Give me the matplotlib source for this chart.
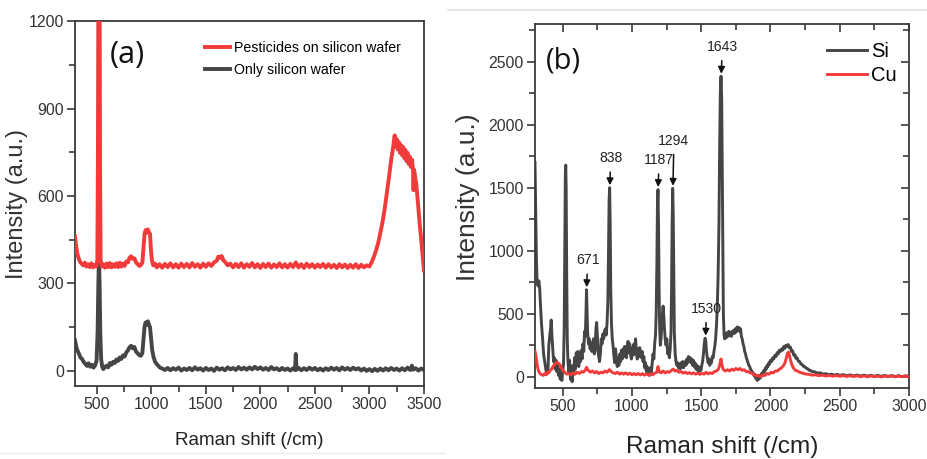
import matplotlib
matplotlib.use("Agg")
import matplotlib.pyplot as plt
from matplotlib import font_manager
from matplotlib.lines import Line2D
from matplotlib.ticker import MultipleLocator

# ---------------- data ----------------
# panel (a): (Raman shift, intensity) pairs
A_WAFER = [
    (300, 105), (310, 86), (320, 72), (335, 60), (350, 46), (365, 41), (380, 30), (395, 24),
    (410, 17), (425, 26), (440, 14), (455, 21), (470, 11), (485, 19), (498, 35), (508, 140),
    (514, 290), (520, 395), (526, 290), (532, 130), (540, 40), (550, 14), (560, 6), (575, 13),
    (590, 18), (605, 12), (620, 27), (635, 21), (650, 31), (665, 27), (680, 39), (695, 34),
    (710, 46), (725, 41), (740, 53), (755, 49), (770, 63), (785, 70), (800, 81), (815, 86),
    (830, 77), (845, 82), (860, 66), (875, 60), (890, 54), (905, 52), (918, 62), (928, 105),
    (938, 152), (948, 166), (958, 158), (968, 170), (978, 160), (988, 150), (998, 112),
    (1008, 72), (1020, 48), (1035, 31), (1050, 23), (1065, 17), (1080, 11), (1100, 8),
    (1125, 3), (1150, 10), (1175, 2), (1200, 9), (1225, 4), (1250, 11), (1275, 1), (1300, 8),
    (1325, 3), (1350, 10), (1375, 2), (1400, 12), (1425, 4), (1450, 9), (1475, 1), (1500, 10),
    (1525, 3), (1550, 8), (1575, 0), (1600, 11), (1625, 4), (1650, 9), (1675, 2), (1700, 12),
    (1725, 5), (1750, 10), (1775, 3), (1800, 13), (1825, 5), (1850, 11), (1875, 4), (1900, 12),
    (1925, 5), (1950, 14), (1975, 6), (2000, 12), (2025, 4), (2050, 10), (2075, 3), (2100, 13),
    (2125, 5), (2150, 9), (2175, 2), (2200, 10), (2225, 3), (2250, 8), (2275, 1), (2300, 9),
    (2318, 3), (2325, 58), (2332, 4), (2350, 10), (2375, 2), (2400, 9), (2425, 3), (2450, 11),
    (2475, 4), (2500, 10), (2525, 2), (2550, 8), (2575, 1), (2600, 9), (2625, 3), (2650, 11),
    (2675, 4), (2700, 10), (2725, 2), (2750, 12), (2775, 4), (2800, 10), (2825, 3), (2850, 11),
    (2875, 5), (2900, 9), (2925, 1), (2950, 8), (2975, 0), (3000, 6), (3025, -1), (3050, 7),
    (3075, 0), (3100, 8), (3125, 1), (3150, 9), (3175, 2), (3200, 10), (3225, 3), (3250, 8),
    (3275, 1), (3300, 9), (3325, 2), (3350, 11), (3375, 3), (3390, 18), (3400, 4), (3425, 9),
    (3450, 1), (3475, 8), (3500, 3),
]

A_PESTICIDES = [
    (300, 462), (310, 430), (320, 405), (330, 390), (345, 375), (360, 368), (375, 362),
    (390, 371), (405, 358), (420, 366), (435, 356), (450, 369), (465, 355), (480, 364),
    (495, 358), (505, 380), (510, 700), (514, 1250), (520, 1260), (526, 1250), (530, 700),
    (535, 380), (545, 358), (560, 366), (575, 354), (590, 368), (605, 356), (620, 370),
    (635, 355), (650, 366), (665, 357), (680, 369), (695, 356), (710, 371), (725, 358),
    (740, 368), (755, 360), (770, 375), (785, 372), (800, 388), (815, 393), (830, 384),
    (845, 386), (860, 372), (875, 366), (890, 360), (905, 363), (918, 372), (928, 420),
    (938, 470), (948, 483), (958, 474), (968, 485), (978, 476), (988, 470), (996, 420),
    (1006, 378), (1018, 362), (1035, 368), (1050, 355), (1075, 366), (1100, 354), (1125, 367),
    (1150, 356), (1175, 369), (1200, 355), (1225, 366), (1250, 354), (1275, 368), (1300, 356),
    (1325, 367), (1350, 355), (1375, 370), (1400, 357), (1425, 366), (1450, 354), (1475, 368),
    (1500, 357), (1525, 369), (1550, 360), (1575, 372), (1600, 378), (1615, 392), (1630, 388),
    (1645, 394), (1660, 380), (1680, 372), (1700, 362), (1725, 368), (1750, 355), (1775, 367),
    (1800, 356), (1825, 369), (1850, 354), (1875, 366), (1900, 357), (1925, 370), (1950, 355),
    (1975, 366), (2000, 353), (2025, 367), (2050, 356), (2075, 368), (2100, 354), (2125, 365),
    (2150, 356), (2175, 369), (2200, 355), (2225, 366), (2250, 354), (2275, 367), (2300, 356),
    (2325, 372), (2350, 355), (2375, 366), (2400, 353), (2425, 368), (2450, 356), (2475, 366),
    (2500, 354), (2525, 365), (2550, 356), (2575, 367), (2600, 354), (2625, 366), (2650, 355),
    (2675, 364), (2700, 353), (2725, 366), (2750, 355), (2775, 365), (2800, 353), (2825, 364),
    (2850, 354), (2875, 366), (2900, 353), (2925, 364), (2950, 355), (2975, 362), (3000, 358),
    (3020, 372), (3040, 390), (3060, 412), (3080, 438), (3100, 472), (3120, 510), (3140, 555),
    (3160, 610), (3180, 665), (3200, 725), (3215, 760), (3225, 790), (3232, 808), (3240, 770),
    (3250, 795), (3260, 760), (3270, 785), (3280, 748), (3290, 775), (3300, 740), (3310, 768),
    (3320, 730), (3330, 758), (3340, 720), (3350, 748), (3360, 710), (3370, 735), (3380, 700),
    (3390, 725), (3400, 690), (3405, 620), (3410, 690), (3420, 665), (3430, 640), (3440, 600),
    (3450, 555), (3460, 510), (3470, 470), (3480, 430), (3490, 390), (3500, 345),
]

# panel (b)
B_SI = [
    (300, 1700), (305, 1300), (310, 950), (315, 760), (322, 720), (328, 760), (334, 700),
    (340, 560), (347, 420), (355, 300), (362, 180), (370, 120), (378, 60), (386, 20), (394, 60),
    (400, 250), (406, 320), (412, 380), (417, 450), (422, 330), (428, 230), (434, 120),
    (440, 150), (446, 60), (452, 130), (458, 40), (464, 90), (470, 10), (476, 60), (482, -20),
    (488, 30), (494, -30), (500, 40), (506, 100), (511, 400), (515, 1000), (519, 1600),
    (522, 1680), (525, 1500), (529, 800), (533, 300), (538, 120), (544, 40), (550, 130),
    (556, -20), (562, 60), (568, -40), (574, 90), (580, 20), (586, 150), (592, 60), (598, 190),
    (604, 100), (610, 200), (616, 80), (622, 150), (628, 120), (634, 210), (640, 140),
    (646, 260), (652, 200), (658, 360), (663, 320), (668, 500), (672, 690), (676, 520),
    (680, 350), (686, 260), (692, 300), (698, 220), (704, 270), (710, 200), (716, 240),
    (722, 300), (728, 180), (734, 220), (740, 380), (745, 430), (750, 330), (755, 200),
    (760, 160), (766, 120), (772, 180), (778, 300), (784, 260), (790, 340), (796, 300),
    (802, 360), (808, 380), (814, 330), (820, 420), (826, 600), (831, 1000), (835, 1400),
    (839, 1500), (843, 1200), (847, 700), (852, 420), (858, 300), (864, 240), (870, 160),
    (876, 110), (882, 220), (888, 130), (894, 80), (900, 150), (906, 90), (912, 180),
    (918, 120), (924, 210), (930, 140), (936, 220), (942, 160), (948, 240), (954, 200),
    (960, 150), (966, 230), (972, 280), (978, 190), (984, 260), (990, 170), (996, 140),
    (1002, 230), (1008, 170), (1014, 260), (1020, 180), (1026, 300), (1032, 200), (1038, 140),
    (1044, 220), (1050, 160), (1056, 230), (1062, 180), (1068, 150), (1074, 200), (1080, 120),
    (1086, 160), (1092, 70), (1098, 110), (1104, 40), (1110, 80), (1116, 20), (1122, 60),
    (1128, 10), (1134, 70), (1140, 30), (1146, 110), (1152, 180), (1158, 140), (1164, 260),
    (1170, 330), (1175, 500), (1180, 900), (1184, 1350), (1188, 1485), (1192, 1200),
    (1196, 700), (1200, 380), (1205, 250), (1210, 300), (1215, 400), (1220, 500), (1225, 560),
    (1230, 480), (1235, 380), (1240, 300), (1246, 250), (1252, 300), (1258, 180), (1264, 230),
    (1270, 150), (1276, 220), (1282, 350), (1286, 700), (1290, 1200), (1294, 1495),
    (1298, 1300), (1302, 800), (1306, 350), (1312, 180), (1318, 120), (1324, 90), (1330, 110),
    (1336, 70), (1342, 100), (1348, 60), (1354, 110), (1360, 80), (1366, 120), (1372, 70),
    (1378, 100), (1384, 120), (1390, 90), (1396, 140), (1402, 110), (1408, 160), (1414, 130),
    (1420, 150), (1426, 110), (1432, 140), (1438, 90), (1444, 130), (1450, 80), (1456, 110),
    (1462, 60), (1468, 90), (1474, 50), (1480, 80), (1486, 40), (1492, 70), (1498, 50),
    (1504, 90), (1510, 120), (1516, 180), (1522, 260), (1528, 305), (1533, 280), (1538, 200),
    (1544, 150), (1550, 110), (1556, 140), (1562, 90), (1568, 130), (1574, 110), (1580, 160),
    (1586, 150), (1592, 200), (1598, 240), (1604, 300), (1610, 400), (1616, 550), (1622, 800),
    (1628, 1200), (1633, 1800), (1638, 2250), (1643, 2385), (1648, 2200), (1652, 1600),
    (1656, 900), (1660, 500), (1665, 330), (1670, 300), (1676, 340), (1682, 310), (1688, 350),
    (1694, 320), (1700, 360), (1706, 330), (1712, 350), (1718, 320), (1724, 360), (1730, 340),
    (1736, 370), (1742, 345), (1748, 380), (1754, 355), (1760, 395), (1766, 370), (1772, 390),
    (1778, 360), (1784, 380), (1790, 320), (1796, 300), (1802, 260), (1808, 240), (1814, 200),
    (1820, 180), (1826, 150), (1832, 130), (1838, 110), (1844, 90), (1850, 80), (1856, 60),
    (1862, 50), (1868, 30), (1874, 30), (1880, 10), (1886, 20), (1892, -10), (1898, 10),
    (1904, -30), (1910, 0), (1916, -20), (1922, 10), (1928, -10), (1934, 20), (1940, 30),
    (1946, 10), (1952, 50), (1958, 40), (1964, 70), (1970, 60), (1976, 90), (1982, 80),
    (1988, 110), (1994, 100), (2000, 130), (2008, 120), (2016, 150), (2024, 140), (2032, 170),
    (2040, 160), (2048, 190), (2056, 180), (2064, 210), (2072, 200), (2080, 220), (2088, 210),
    (2096, 240), (2104, 225), (2112, 250), (2120, 240), (2128, 255), (2136, 230), (2144, 235),
    (2152, 200), (2160, 205), (2168, 170), (2176, 175), (2184, 145), (2192, 150), (2200, 125),
    (2210, 120), (2220, 100), (2230, 95), (2240, 80), (2250, 78), (2260, 65), (2270, 62),
    (2280, 50), (2290, 50), (2300, 40), (2320, 38), (2340, 28), (2360, 30), (2380, 20),
    (2400, 24), (2420, 15), (2440, 20), (2460, 12), (2480, 18), (2500, 10), (2525, 16),
    (2550, 8), (2575, 14), (2600, 6), (2625, 13), (2650, 5), (2675, 12), (2700, 4), (2725, 11),
    (2750, 3), (2775, 10), (2800, 2), (2825, 10), (2850, 2), (2875, 9), (2900, 1), (2925, 8),
    (2950, 0), (2975, 7), (3000, 2),
]

B_CU = [
    (300, 200), (306, 170), (312, 120), (318, 80), (324, 50), (330, 35), (340, 20), (350, 15),
    (360, 10), (370, 25), (380, 15), (390, 35), (400, 30), (410, 50), (420, 60), (430, 80),
    (440, 95), (450, 105), (460, 115), (470, 105), (480, 95), (490, 70), (500, 55), (510, 40),
    (520, 30), (530, 20), (545, 25), (560, 15), (575, 30), (590, 20), (605, 35), (620, 25),
    (635, 40), (650, 35), (665, 55), (672, 75), (680, 55), (690, 45), (700, 35), (715, 45),
    (730, 30), (745, 40), (760, 25), (775, 35), (790, 30), (805, 45), (820, 35), (838, 55),
    (850, 40), (865, 30), (880, 25), (895, 35), (910, 20), (925, 30), (940, 20), (955, 30),
    (970, 18), (985, 28), (1000, 15), (1015, 25), (1030, 15), (1045, 25), (1060, 14),
    (1075, 24), (1090, 12), (1105, 22), (1120, 12), (1135, 24), (1150, 15), (1165, 28),
    (1180, 35), (1188, 80), (1196, 40), (1210, 30), (1225, 45), (1240, 30), (1255, 40),
    (1270, 35), (1285, 50), (1298, 60), (1310, 45), (1325, 50), (1340, 35), (1355, 40),
    (1370, 28), (1385, 35), (1400, 25), (1415, 32), (1430, 22), (1445, 30), (1460, 20),
    (1475, 28), (1490, 18), (1505, 26), (1520, 20), (1535, 35), (1550, 22), (1565, 30),
    (1580, 25), (1595, 40), (1610, 45), (1625, 60), (1635, 100), (1643, 140), (1650, 90),
    (1660, 55), (1675, 45), (1690, 55), (1705, 45), (1720, 60), (1735, 50), (1750, 65),
    (1765, 55), (1780, 65), (1795, 50), (1810, 55), (1825, 40), (1840, 40), (1855, 30),
    (1870, 25), (1885, 15), (1900, 5), (1915, 10), (1930, 0), (1945, 15), (1960, 10),
    (1975, 25), (1990, 20), (2005, 35), (2020, 30), (2035, 45), (2050, 45), (2065, 60),
    (2080, 70), (2095, 90), (2105, 110), (2115, 150), (2123, 185), (2130, 195), (2137, 170),
    (2145, 130), (2155, 95), (2165, 70), (2180, 50), (2195, 45), (2210, 35), (2225, 30),
    (2240, 25), (2260, 20), (2280, 18), (2300, 12), (2325, 15), (2350, 8), (2375, 12),
    (2400, 5), (2425, 10), (2450, 4), (2475, 9), (2500, 3), (2525, 8), (2550, 2), (2575, 7),
    (2600, 1), (2625, 7), (2650, 0), (2675, 6), (2700, -1), (2725, 6), (2750, 0), (2775, 5),
    (2800, -2), (2825, 5), (2850, 0), (2875, 6), (2900, -1), (2925, 5), (2950, 0), (2975, 4),
    (3000, -2),
]

B_PEAKS = [671, 838, 1187, 1294, 1530, 1643]

# ---------------- style ----------------
RED = "#f13b3b"
GRAY = "#454545"
SPINE = "#3a3a3a"

available = {f.name for f in font_manager.fontManager.ttflist}
NARROW = "Liberation Sans Narrow" if "Liberation Sans Narrow" in available else "Liberation Sans"
REGULAR = "Liberation Sans"
shrink = 1.0 if NARROW == "Liberation Sans Narrow" else 0.88

plt.rcParams["font.family"] = [REGULAR, "DejaVu Sans"]


def unzip(pairs):
    return [p[0] for p in pairs], [p[1] for p in pairs]


def style_axes(ax, mirror):
    for s in ax.spines.values():
        s.set_color(SPINE)
        s.set_linewidth(1.3)
    ax.tick_params(which="both", direction="out", color=SPINE, width=1.2)
    ax.tick_params(which="major", length=6)
    ax.tick_params(which="minor", length=4)
    for lab in ax.get_xticklabels() + ax.get_yticklabels():
        lab.set_fontfamily(NARROW)
    if mirror:
        top = ax.secondary_xaxis("top")
        right = ax.secondary_yaxis("right")
        for sec, loc in ((top, ax.xaxis), (right, ax.yaxis)):
            sec.set_ticks(loc.get_majorticklocs())
            sec.tick_params(which="both", direction="in", color=SPINE, width=1.2)
            sec.tick_params(which="major", length=6)
            sec.tick_params(which="minor", length=4)
        top.xaxis.set_minor_locator(MultipleLocator(250))
        right.yaxis.set_minor_locator(MultipleLocator(250))
        top.tick_params(labeltop=False)
        right.tick_params(labelright=False)
        top.spines["top"].set_visible(False)
        right.spines["right"].set_visible(False)


fig = plt.figure(figsize=(9.28, 4.59), dpi=100)

# ---------------- panel (a) ----------------
ax1 = fig.add_axes([0.0808, 0.159, 0.376, 0.795])
x, y = unzip(A_WAFER)
ax1.plot(x, y, color=GRAY, lw=2.8, label="Only silicon wafer", zorder=2)
x, y = unzip(A_PESTICIDES)
ax1.plot(x, y, color=RED, lw=2.8, label="Pesticides on silicon wafer", zorder=3)
ax1.set_xlim(300, 3500)
ax1.set_ylim(-52, 1200)
ax1.xaxis.set_major_locator(MultipleLocator(500))
ax1.xaxis.set_minor_locator(MultipleLocator(250))
ax1.yaxis.set_major_locator(MultipleLocator(300))
ax1.yaxis.set_minor_locator(MultipleLocator(150))
ax1.tick_params(labelsize=13 * shrink, pad=2, labelcolor="#333")
style_axes(ax1, mirror=False)
ax1.set_xlabel("Raman shift (/cm)", fontsize=15.5 * shrink, family=NARROW, color="#222")
ax1.xaxis.set_label_coords(0.5, -0.125)
ax1.xaxis.label.set_va("top")
ax1.set_ylabel("Intensity (a.u.)", fontsize=17, color="#333")
ax1.yaxis.set_label_coords(-0.135, 0.5)
ax1.text(0.149, 0.907, "(a)", transform=ax1.transAxes, fontsize=22, ha="center", va="center",
         family="Open Sans", color="#111")
h, l = ax1.get_legend_handles_labels()
leg = ax1.legend(h[::-1], l[::-1], loc="upper left", bbox_to_anchor=(0.355, 0.962), frameon=False,
                 prop={"family": NARROW, "size": 11.6 * shrink}, handlelength=1.8,
                 handletextpad=0.3, labelspacing=0.6, borderaxespad=0)

# ---------------- panel (b) ----------------
ax2 = fig.add_axes([0.5765, 0.1547, 0.403, 0.793])
x, y = unzip(B_SI)
ax2.plot(x, y, color=GRAY, lw=2.1, label="Si", zorder=2)
x, y = unzip(B_CU)
ax2.plot(x, y, color=RED, lw=2.1, label="Cu", zorder=3)
ax2.set_xlim(300, 3000)
ax2.set_ylim(-90, 2800)
ax2.xaxis.set_major_locator(MultipleLocator(500))
ax2.xaxis.set_minor_locator(MultipleLocator(250))
ax2.yaxis.set_major_locator(MultipleLocator(500))
ax2.yaxis.set_minor_locator(MultipleLocator(250))
ax2.tick_params(labelsize=13 * shrink, pad=2, labelcolor="#333")
ax2.tick_params(axis="y", which="major", length=7)
style_axes(ax2, mirror=True)
ax2.set_xlabel("Raman shift (/cm)", fontsize=20 * shrink, family=NARROW, color="#222")
ax2.xaxis.set_label_coords(0.5, -0.133)
ax2.xaxis.label.set_va("top")
ax2.set_ylabel("Intensity (a.u.)", fontsize=19, color="#333")
ax2.yaxis.set_label_coords(-0.148, 0.525)
ax2.text(0.075, 0.898, "(b)", transform=ax2.transAxes, fontsize=21, ha="center", va="center",
         family="Open Sans", color="#111")
ax2.legend(loc="upper right", bbox_to_anchor=(1.0, 0.985), frameon=False,
           prop={"family": REGULAR, "size": 14.5}, handlelength=2.0, handletextpad=0.2,
           labelspacing=0.25, borderaxespad=0.2)

# peak labels with arrows, tip sits just above the local maximum of the Si trace
si_x, si_y = unzip(B_SI)
for peak in B_PEAKS:
    top = max(v for u, v in zip(si_x, si_y) if abs(u - peak) <= 8)
    tip = top + 20
    gap = 360 if peak == 1294 else 215
    ax2.annotate(str(peak), xy=(peak + 2, tip), xytext=(peak + 9, tip + gap),
                 ha="center", va="center", fontsize=11.5 * shrink, family=NARROW, color="#222",
                 arrowprops=dict(arrowstyle="-|>", color="#111", lw=1.1, mutation_scale=10,
                                 shrinkA=3, shrinkB=0))

# faint screenshot borders visible in the reference
fig.add_artist(Line2D([448 / 928, 1.0], [1 - 10 / 459] * 2, color="#e2e2e2", lw=1.2))
fig.add_artist(Line2D([0.0, 445 / 928], [1 - 453 / 459] * 2, color="#ececec", lw=1.0))

fig.savefig("out.png", dpi=100)
